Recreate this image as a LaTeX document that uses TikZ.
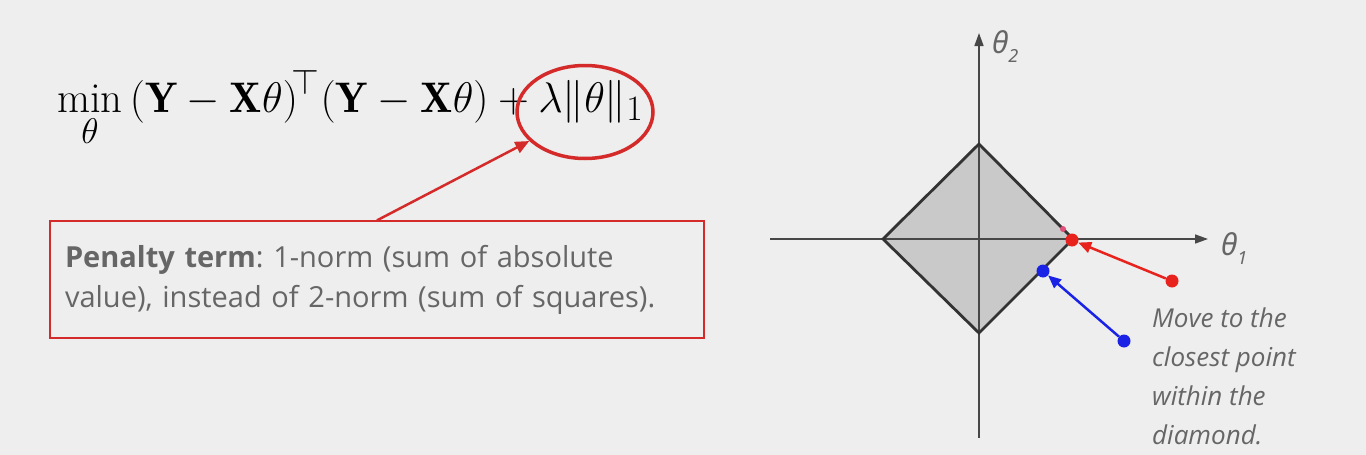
\documentclass[tikz,border=0pt]{standalone}
\usepackage{amsmath}
\usepackage{graphicx}
\usepackage{fontspec}
\setsansfont{Open Sans}
\newfontfamily\gfont{Noto Sans}
\usetikzlibrary{arrows.meta,shapes.geometric}
\definecolor{bg}{HTML}{EEEEEE}
\definecolor{txt}{HTML}{666666}
\definecolor{penred}{HTML}{D42A2A}
\definecolor{ptred}{HTML}{E8231E}
\definecolor{ptblue}{HTML}{1A22E6}
\definecolor{dgray}{HTML}{C9C9C9}
\definecolor{lgray}{HTML}{333333}
\definecolor{pink}{HTML}{E0507A}
\frenchspacing
\tikzset{
  axisline/.style={draw=lgray!90, line width=1.6pt},
  dotred/.style={circle, fill=ptred, inner sep=0pt, minimum size=13pt},
  dotblue/.style={circle, fill=ptblue, inner sep=0pt, minimum size=13pt},
  lbl/.style={text=txt, inner sep=0pt},
}
\begin{document}
\begin{tikzpicture}[x=1pt,y=-1pt]
\useasboundingbox[fill=bg] (0,0) rectangle (1366,455);
% formula
\node[anchor=base west, inner sep=0pt] (eq) at (57,112)
  {\scalebox{1.72}{\Huge $\displaystyle \min_{\theta}\,(\mathbf{Y}-\mathbf{X}\theta)^{\!\top}(\mathbf{Y}-\mathbf{X}\theta)+\lambda\|\theta\|_1$}};
\node[ellipse, draw=penred, line width=3.5pt, minimum width=136pt, minimum height=93pt] (ell) at (585,112) {};
% box
\node[draw=penred, line width=1.3pt, minimum width=654pt, minimum height=117pt, text width=624pt, align=left, inner xsep=15pt, text=txt, font=\sffamily\fontsize{29}{40}\selectfont] (box) at (377,279.5)
  {\textbf{Penalty term}: 1-norm (sum of absolute\\value), instead of 2-norm (sum of squares).};
\draw[penred, line width=2.5pt, -{Triangle[length=14pt,width=12pt]}] (box.north) -- (ell);
% diamond
\coordinate (dt) at (979,144);
\coordinate (dr) at (1073,239);
\coordinate (db) at (979,333);
\coordinate (dl) at (883,239);
\fill[dgray] (dt) -- (dr) -- (db) -- (dl) -- cycle;
% axes
\coordinate (ybot) at (979,438);
\coordinate (ytop) at (979,33);
\coordinate (xl) at (770,239);
\coordinate (xr) at (1208,239);
\draw[axisline, -{Triangle[length=13pt,width=9pt]}] (ybot) -- (ytop);
\draw[axisline, -{Triangle[length=13pt,width=9pt]}] (xl) -- (xr);
\draw[lgray, line width=2.8pt, line join=miter] (dt) -- (dr) -- (db) -- (dl) -- cycle;
\node[lbl, anchor=base west] (t2) at (992,53) {\gfont\itshape\fontsize{30}{30}\selectfont θ\raisebox{-9pt}{\fontsize{18}{18}\selectfont 2}};
\node[lbl, anchor=base west] (t1) at (1221,255) {\gfont\itshape\fontsize{30}{30}\selectfont θ\raisebox{-9pt}{\fontsize{18}{18}\selectfont 1}};
% points
\node[circle, fill=pink, inner sep=0pt, minimum size=6pt] (pk) at (1063,229) {};
\node[dotred] (r1) at (1072,240) {};
\node[dotred] (r2) at (1172,281) {};
\node[dotblue] (b1) at (1043,271) {};
\node[dotblue] (b2) at (1124,341) {};
\draw[ptred, line width=2.5pt, -{Triangle[length=13pt,width=11pt]}] (r2) -- (r1);
\draw[ptblue, line width=2.5pt, -{Triangle[length=13pt,width=11pt]}] (b2) -- (b1);
\node[lbl, anchor=north west, align=left, font=\sffamily\itshape\fontsize{26}{39}\selectfont] (note) at (1152,308)
  {Move to the\\closest point\\within the\\diamond.};
\end{tikzpicture}
\end{document}
